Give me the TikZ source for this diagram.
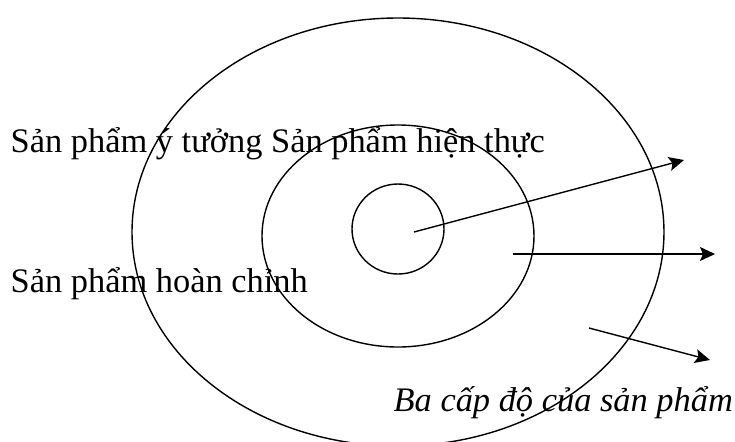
\documentclass[tikz,border=0pt]{standalone}
\usepackage{fontspec}
\setmainfont{Liberation Serif}
\usetikzlibrary{arrows.meta}

\begin{document}
\begin{tikzpicture}[x=0.5pt, y=-0.5pt, line width=0.7pt,
    every node/.style={inner sep=0pt, anchor=base west, font=\fontsize{17.2}{20}\selectfont},
    levelarrow/.style={-{Stealth[length=7.5pt, width=7pt, inset=1.5pt]}}]
    \useasboundingbox (0,0) rectangle (735,441);
    \clip (0,0) rectangle (735,441);

    % --- Three levels ---
    \draw (398,232) ellipse [x radius=266, y radius=214];
    \draw (398,236) ellipse [x radius=136, y radius=111];
    \draw (398,229) ellipse [x radius=46, y radius=45];

    % --- Labels ---
    \node (ytuong) at (10,152) {Sản phẩm ý tưởng Sản phẩm hiện thực};
    \node (hoanchinh) at (10,292) {Sản phẩm hoàn chỉnh};
    \node[font=\fontsize{17.2}{20}\selectfont\itshape] (caption) at (393,411) {Ba cấp độ của sản phẩm};

    % --- Arrows out of the rings ---
    \coordinate (coreA) at (414,232);
    \coordinate (coreB) at (684,160);
    \coordinate (realA) at (513,254);
    \coordinate (realB) at (715,254);
    \coordinate (fullA) at (589,328);
    \coordinate (fullB) at (710,360);
    \draw[levelarrow] (coreA) -- (coreB);
    \draw[levelarrow] (realA) -- (realB);
    \draw[levelarrow] (fullA) -- (fullB);
\end{tikzpicture}
\end{document}
